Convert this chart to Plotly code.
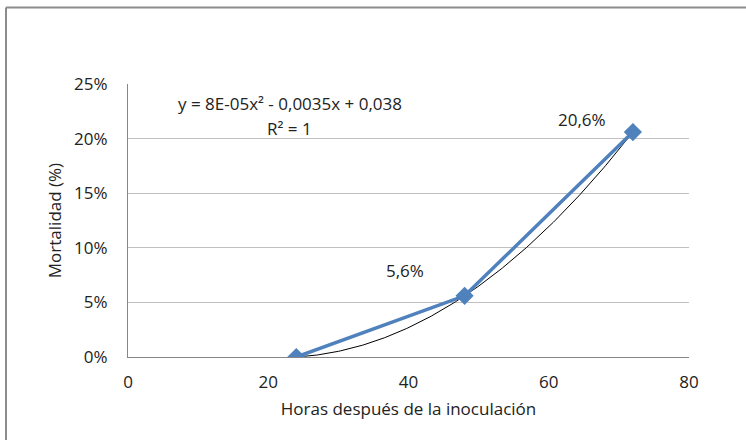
import numpy as np
import plotly.graph_objects as go

horas = [24, 48, 72]
mortalidad = [0.0, 0.056, 0.206]
etiquetas = ["", "5,6%", "20,6%"]
x_ticks = [0, 20, 40, 60, 80]
y_ticks = [0, 0.05, 0.10, 0.15, 0.20, 0.25]
y_tick_labels = ["0%", "5%", "10%", "15%", "20%", "25%"]
ecuacion = "y = 8E-05x² - 0,0035x + 0,038"
r2 = "R² = 1"

coef = np.polyfit(horas, mortalidad, 2)
xt = np.linspace(min(horas), max(horas), 200)
yt = np.polyval(coef, xt)

font = "Open Sans, Liberation Sans, sans-serif"
blue = "#4F81BD"
fs = 17

fig = go.Figure()
fig.add_trace(go.Scatter(x=xt, y=yt, mode="lines",
                         line=dict(color="black", width=1), hoverinfo="skip"))
fig.add_trace(go.Scatter(x=horas, y=mortalidad, mode="lines+markers",
                         line=dict(color=blue, width=3.5),
                         marker=dict(symbol="diamond", size=14, color=blue),
                         hoverinfo="skip"))

shifts = [(0, 0), (-60, 25), (-51, 13)]
for xv, yv, t, (dx, dy) in zip(horas, mortalidad, etiquetas, shifts):
    if t:
        fig.add_annotation(x=xv, y=yv, text=t, showarrow=False,
                           xshift=dx, yshift=dy,
                           font=dict(family=font, size=fs, color="#222"))

fig.add_annotation(x=23.1, y=0.2317, text=ecuacion, showarrow=False,
                   font=dict(family=font, size=fs, color="#222"))
fig.add_annotation(x=23.1, y=0.2097, text=r2, showarrow=False,
                   font=dict(family=font, size=fs, color="#222"))

# outer chart frame (top and left edges)
fig.add_shape(type="line", xref="paper", yref="paper",
              x0=-122/561, x1=1.2, y0=(357-7.5)/273, y1=(357-7.5)/273,
              line=dict(color="#8c8c8c", width=2))
fig.add_shape(type="line", xref="paper", yref="paper",
              x0=-122/561, x1=-122/561, y0=(357-7.5)/273, y1=-0.4,
              line=dict(color="#8c8c8c", width=2))

fig.update_layout(
    width=746, height=440,
    margin=dict(l=128, r=57, t=84, b=83),
    paper_bgcolor="white", plot_bgcolor="white",
    showlegend=False,
    font=dict(family=font, size=fs, color="#222"),
    xaxis=dict(range=[0, 80], tickvals=x_ticks, showgrid=False,
               showline=True, linecolor="#868686", linewidth=1,
               ticks="outside", ticklen=10, tickcolor="rgba(0,0,0,0)",
               zeroline=False,
               title=dict(text="Horas después de la inoculación",
                          font=dict(size=fs), standoff=10)),
    yaxis=dict(range=[0, 0.25], tickvals=y_ticks, ticktext=y_tick_labels,
               showgrid=True, gridcolor="#c0c0c0", gridwidth=1,
               showline=True, linecolor="#868686", linewidth=1,
               ticks="outside", ticklen=16, tickcolor="rgba(0,0,0,0)",
               zeroline=False,
               title=dict(text="Mortalidad (%)", font=dict(size=fs), standoff=8)),
)

fig.write_html("out.html", config={"displayModeBar": False},
               post_script="document.body.style.margin='0';document.body.style.padding='0';")
